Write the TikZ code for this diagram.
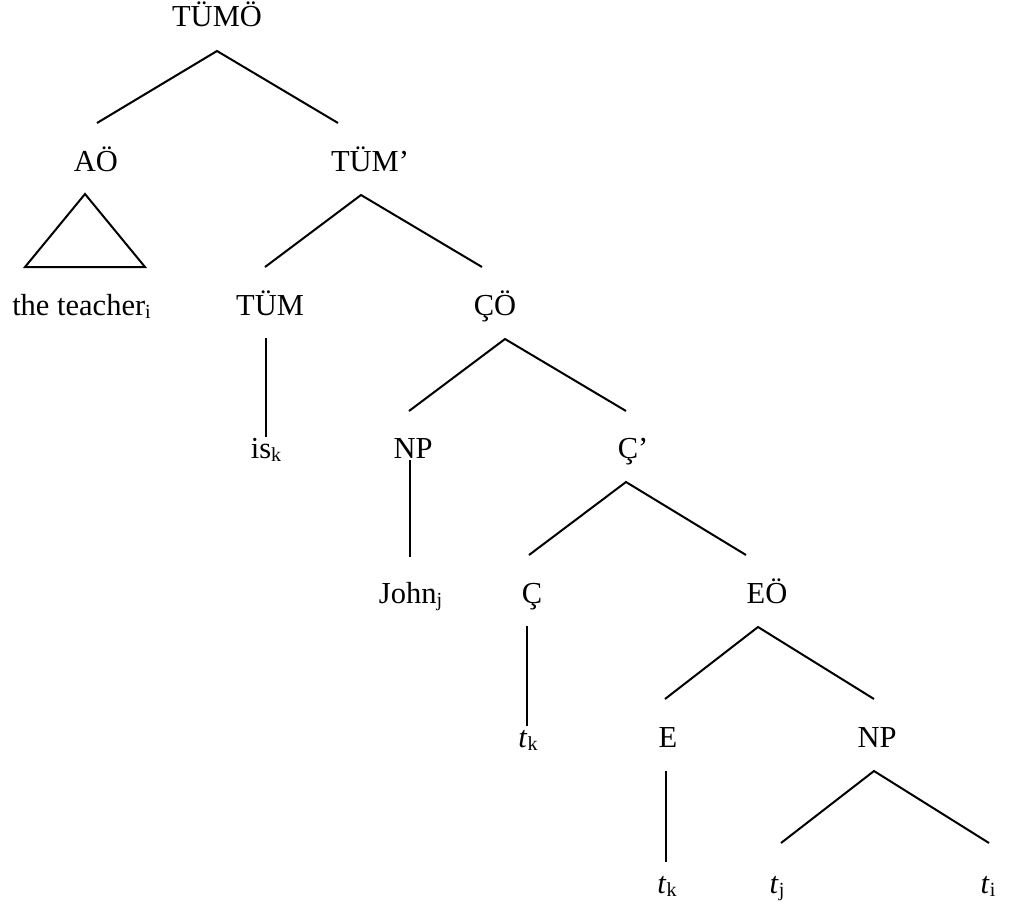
\documentclass[tikz,border=0pt]{standalone}
\usepackage{fontspec}
\setmainfont{Liberation Serif}
\newcommand{\sbx}[1]{\raisebox{-3pt}{\fontsize{20}{20}\selectfont #1}}
\begin{document}
\begin{tikzpicture}[x=1pt,y=-1pt,
  lab/.style={inner sep=0pt,anchor=base,font=\fontsize{30.5}{36}\selectfont},
  edge/.style={line width=2pt,line cap=butt,line join=miter}]
\useasboundingbox (0,0) rectangle (1024,907);
% labels
\node[lab] (TUMO) at (217,27) {TÜMÖ};
\node[lab] (AO) at (96,171) {AÖ};
\node[lab] (TUMb) at (370,171) {TÜM’};
\node[lab] (teacher) at (81.5,315) {the teacher\sbx{i}};
\node[lab] (TUM) at (270,315) {TÜM};
\node[lab] (CO) at (495,315) {ÇÖ};
\node[lab] (isk) at (266,458) {is\sbx{k}};
\node[lab] (NPa) at (413,458) {NP};
\node[lab] (Cb) at (633,458) {Ç’};
\node[lab] (John) at (410.5,603) {John\sbx{j}};
\node[lab] (C) at (532,603) {Ç};
\node[lab] (EO) at (767,603) {EÖ};
\node[lab] (tka) at (528,747) {\textit{t}\sbx{k}};
\node[lab] (E) at (668,747) {E};
\node[lab] (NPb) at (877,747) {NP};
\node[lab] (tkb) at (667,893) {\textit{t}\sbx{k}};
\node[lab] (tj) at (777,893) {\textit{t}\sbx{j}};
\node[lab] (ti) at (988,893) {\textit{t}\sbx{i}};
% connector end points
\coordinate (TUMO-s) at (217,51);
\coordinate (AO-n) at (97,123);
\coordinate (TUMb-n) at (338,123);
\coordinate (AO-s) at (85,194);
\coordinate (teacher-nw) at (25,267);
\coordinate (teacher-ne) at (145,267);
\coordinate (TUMb-s) at (361,195);
\coordinate (TUM-n) at (265,267);
\coordinate (CO-n) at (482,267);
\coordinate (TUM-s) at (266,338);
\coordinate (isk-n) at (266,437);
\coordinate (CO-s) at (505,339);
\coordinate (NPa-n) at (409,411);
\coordinate (Cb-n) at (626,411);
\coordinate (NPa-s) at (410,460);
\coordinate (John-n) at (410,557);
\coordinate (Cb-s) at (626,482);
\coordinate (C-n) at (529,555);
\coordinate (EO-n) at (746,555);
\coordinate (C-s) at (527,626);
\coordinate (tka-n) at (527,726);
\coordinate (EO-s) at (758,627);
\coordinate (E-n) at (665,699);
\coordinate (NPb-n) at (874,699);
\coordinate (E-s) at (666,771);
\coordinate (tkb-n) at (666,862);
\coordinate (NPb-s) at (874,771);
\coordinate (tj-n) at (781,843);
\coordinate (ti-n) at (989,843);
% connectors
\draw[edge] (AO-n) -- (TUMO-s) -- (TUMb-n);
\draw[edge] (AO-s) -- (teacher-nw) -- (teacher-ne) -- cycle;
\draw[edge] (TUM-n) -- (TUMb-s) -- (CO-n);
\draw[edge] (TUM-s) -- (isk-n);
\draw[edge] (NPa-n) -- (CO-s) -- (Cb-n);
\draw[edge] (NPa-s) -- (John-n);
\draw[edge] (C-n) -- (Cb-s) -- (EO-n);
\draw[edge] (C-s) -- (tka-n);
\draw[edge] (E-n) -- (EO-s) -- (NPb-n);
\draw[edge] (E-s) -- (tkb-n);
\draw[edge] (tj-n) -- (NPb-s) -- (ti-n);
\end{tikzpicture}
\end{document}
